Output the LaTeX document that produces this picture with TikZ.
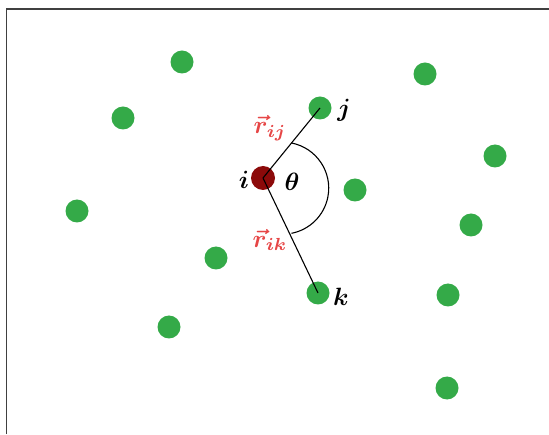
\documentclass[tikz,border=0pt]{standalone}
\usepackage{amsmath,bm}
\usetikzlibrary{calc}
\definecolor{dotgreen}{RGB}{52,170,72}
\definecolor{dotred}{RGB}{140,10,10}
\definecolor{labred}{RGB}{230,70,70}
\tikzset{
  atom/.style={circle, fill=dotgreen, minimum size=23pt, inner sep=0pt},
  center atom/.style={circle, fill=dotred, minimum size=24pt, inner sep=0pt},
  bond/.style={black, line width=1.1pt},
  lab/.style={font=\boldmath, inner sep=0pt, scale=2.5},
  vlab/.style={lab, text=labred},
  frame/.style={gray!50!black, line width=1.5pt}
}
\begin{document}
\begin{tikzpicture}[x=1pt,y=1pt]
\useasboundingbox (0,0) rectangle (549,434);
\draw[frame] (6.5,0) coordinate (fa) -- (6.5,425) coordinate (fb) -- (549,425) coordinate (fc);
\node[atom] (d1) at (182,372) {};
\node[atom] (d2) at (425,360) {};
\node[atom] (d3) at (123,316) {};
\node[atom] (j) at (320,326) {};
\node[atom] (d5) at (495,278) {};
\node[center atom] (i) at (263,256) {};
\node[atom] (d7) at (355,244) {};
\node[atom] (d8) at (77,223) {};
\node[atom] (d9) at (471,209) {};
\node[atom] (d10) at (216,176) {};
\node[atom] (k) at (318,141) {};
\node[atom] (d12) at (448,139) {};
\node[atom] (d13) at (169,107) {};
\node[atom] (d14) at (447,46) {};
\draw[bond] (i.center) -- (j.center);
\draw[bond] (i.center) -- (k.center);
\coordinate (mij) at ($(i.center)!0.5!(j.center)$);
\draw[bond] (mij) arc[start angle=79, end angle=-79, radius=46];
\node[lab] (lj) at (344,324) {$j$};
\node[lab] (lk) at (341,137) {$k$};
\node[lab] (li) at (244,254) {$i$};
\node[lab] (lt) at (292,252) {$\theta$};
\node[vlab] (lrij) at (270,306) {$\vec{r}_{ij}$};
\node[vlab] (lrik) at (270,194) {$\vec{r}_{ik}$};
\end{tikzpicture}
\end{document}
